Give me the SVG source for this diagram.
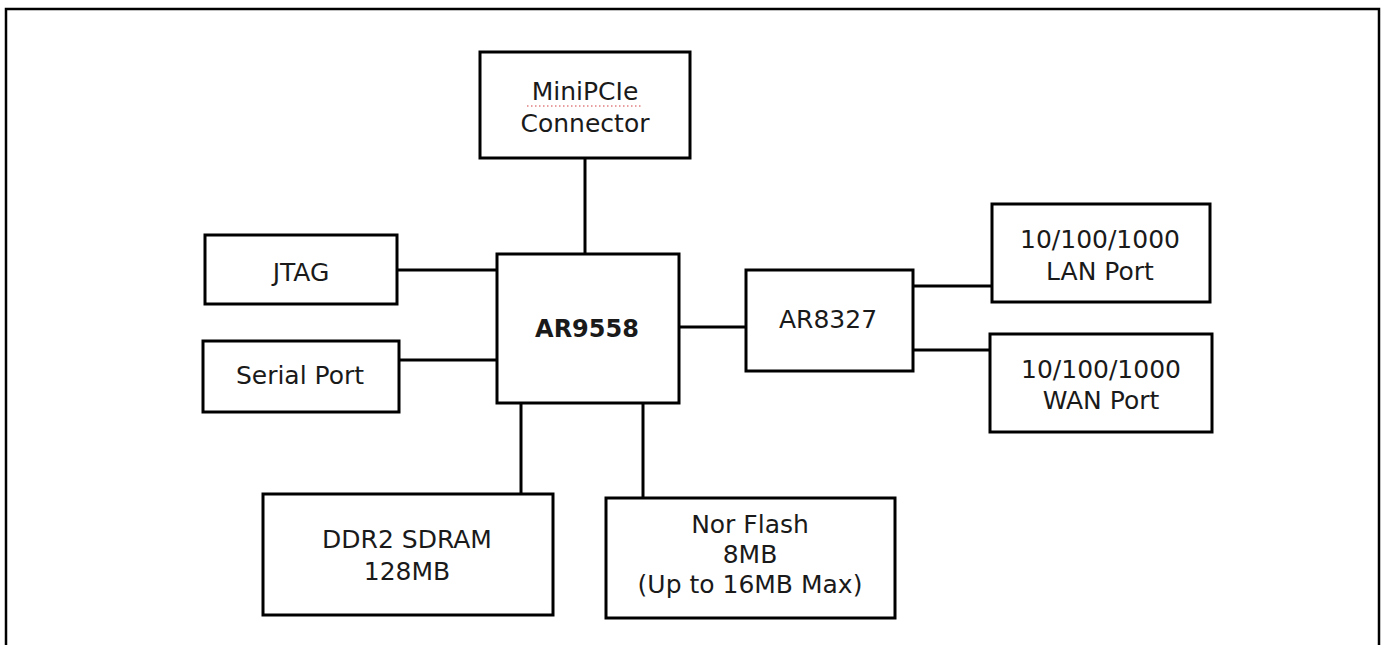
<svg xmlns="http://www.w3.org/2000/svg" width="1384" height="645" viewBox="0 0 1384 645">
  <style>
    .box { fill: #ffffff; stroke: #000000; stroke-width: 3; }
    .wire { stroke: #000000; stroke-width: 3; fill: none; }
    .lbl { font-family: "DejaVu Sans", "Noto Sans", sans-serif; font-size: 25px; fill: #1a1a1a; text-anchor: middle; }
    .bold { font-weight: bold; font-size: 24px; }
  </style>
  <rect x="0" y="0" width="1384" height="645" fill="#ffffff"/>
  <path d="M6,650 V9 H1379 V650" fill="none" stroke="#000000" stroke-width="2.5"/>

  <g id="connectors">
    <line class="wire" x1="585" y1="158" x2="585" y2="254"/>
    <line class="wire" x1="397" y1="270" x2="497" y2="270"/>
    <line class="wire" x1="399" y1="360" x2="497" y2="360"/>
    <line class="wire" x1="679" y1="327" x2="746" y2="327"/>
    <line class="wire" x1="913" y1="286" x2="992" y2="286"/>
    <line class="wire" x1="913" y1="350" x2="990" y2="350"/>
    <line class="wire" x1="521" y1="403" x2="521" y2="494"/>
    <line class="wire" x1="643" y1="403" x2="643" y2="498"/>
  </g>

  <g id="minipcie">
    <rect class="box" x="480" y="52" width="210" height="106"/>
    <text class="lbl" x="585" y="100">MiniPCIe</text>
    <line x1="527" y1="106" x2="641" y2="106" stroke="#d04040" stroke-width="1.2" stroke-dasharray="1.5 2.5"/>
    <text class="lbl" x="585" y="132">Connector</text>
  </g>

  <g id="jtag">
    <rect class="box" x="205" y="235" width="192" height="69"/>
    <text class="lbl" x="301" y="281">JTAG</text>
  </g>

  <g id="serial">
    <rect class="box" x="203" y="341" width="196" height="71"/>
    <text class="lbl" x="300" y="384">Serial Port</text>
  </g>

  <g id="ar9558">
    <rect class="box" x="497" y="254" width="182" height="149"/>
    <text class="lbl bold" x="587" y="337">AR9558</text>
  </g>

  <g id="ar8327">
    <rect class="box" x="746" y="270" width="167" height="101"/>
    <text class="lbl" x="828" y="328">AR8327</text>
  </g>

  <g id="lan">
    <rect class="box" x="992" y="204" width="218" height="98"/>
    <text class="lbl" x="1100" y="248">10/100/1000</text>
    <text class="lbl" x="1100" y="280">LAN Port</text>
  </g>

  <g id="wan">
    <rect class="box" x="990" y="334" width="222" height="98"/>
    <text class="lbl" x="1101" y="378">10/100/1000</text>
    <text class="lbl" x="1101" y="409">WAN Port</text>
  </g>

  <g id="ddr2">
    <rect class="box" x="263" y="494" width="290" height="121"/>
    <text class="lbl" x="407" y="548">DDR2 SDRAM</text>
    <text class="lbl" x="407" y="580">128MB</text>
  </g>

  <g id="norflash">
    <rect class="box" x="606" y="498" width="289" height="120"/>
    <text class="lbl" x="750" y="533">Nor Flash</text>
    <text class="lbl" x="750" y="563">8MB</text>
    <text class="lbl" x="750" y="593">(Up to 16MB Max)</text>
  </g>
</svg>
